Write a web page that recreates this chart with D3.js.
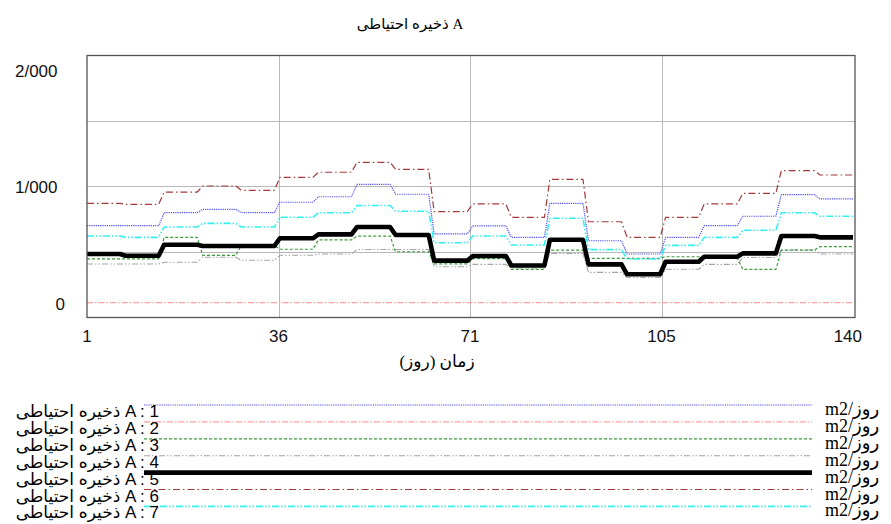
<!DOCTYPE html>
<html>
<head>
<meta charset="utf-8">
<script src="https://cdn.jsdelivr.net/npm/d3@7"></script>
<style>
  body { margin: 0; background: #ffffff; }
  svg { display: block; }
</style>
</head>
<body>
<svg id="chart" width="891" height="524"></svg>
<script>
// ---- data: weekly reserve stock per run (each value holds for 7 days) ----
const runNames = ["1", "2", "3", "4", "5", "6", "7"];
const seriesTitle = "ذخیره احتیاطی A";
const unitLabel = "m2/روز";
const xAxisTitle = "زمان (روز)";
const xTickValues = [1, 35.75, 70.5, 105.25, 140];
const xTickLabels = ["1", "36", "71", "105", "140"];
const yTickValues = [0, 1, 2];
const yTickLabels = ["0", "1/000", "2/000"];

const run1 = [0.697, 0.697, 0.796, 0.822, 0.796, 0.876, 0.918, 1.013, 0.937, 0.634,
              0.695, 0.608, 0.868, 0.582, 0.481, 0.608, 0.697, 0.769, 0.934, 0.901];
const run2 = [0.11, 0.11, 0.11, 0.11, 0.11, 0.11, 0.11, 0.11, 0.11, 0.11,
              0.11, 0.11, 0.11, 0.11, 0.11, 0.11, 0.11, 0.11, 0.11, 0.11];
const run3 = [0.443, 0.443, 0.608, 0.471, 0.547, 0.517, 0.588, 0.618, 0.498, 0.405,
              0.445, 0.364, 0.511, 0.448, 0.448, 0.460, 0.450, 0.364, 0.511, 0.537];
const run4 = [0.405, 0.405, 0.418, 0.456, 0.433, 0.471, 0.481, 0.515, 0.515, 0.384,
              0.402, 0.374, 0.485, 0.341, 0.302, 0.364, 0.402, 0.454, 0.511, 0.481];
const run5 = [0.481, 0.468, 0.552, 0.542, 0.542, 0.601, 0.631, 0.687, 0.626, 0.430,
              0.466, 0.393, 0.590, 0.402, 0.326, 0.422, 0.460, 0.486, 0.618, 0.608];
const run6 = [0.868, 0.860, 0.954, 1.000, 0.967, 1.066, 1.105, 1.181, 1.127, 0.804,
              0.863, 0.761, 1.051, 0.727, 0.608, 0.761, 0.863, 0.944, 1.117, 1.084];
const run7 = [0.618, 0.608, 0.687, 0.715, 0.687, 0.761, 0.796, 0.851, 0.807, 0.567,
              0.618, 0.550, 0.754, 0.514, 0.443, 0.547, 0.608, 0.662, 0.796, 0.769];

const daysPerWeek = 7;

// line styles per run
const styles = [
  { color: "#4d4dff", width: 1.2, dash: "1.2,1" },            // 1 blue dotted
  { color: "#ffa0a0", width: 1.1, dash: "6,2,1.5,2" },        // 2 pink dash-dot
  { color: "#3c9a3c", width: 1.2, dash: "3,2" },              // 3 green dashed
  { color: "#a5a5a5", width: 1.1, dash: "6,2,1.5,2,1.5,2" },  // 4 grey dash-dot-dot
  { color: "#000000", width: 4.6, dash: null },               // 5 black thick
  { color: "#a33a3a", width: 1.2, dash: "7,3,1.5,3" },        // 6 dark red dash-dot
  { color: "#33f0f0", width: 1.6, dash: "7,2,1.5,2,1.5,2" }   // 7 cyan dash-dot-dot
];

const allRuns = [run1, run2, run3, run4, run5, run6, run7];

// expand each weekly value over the days it covers
function toDaily(weekly) {
  const pts = [];
  weekly.forEach((v, w) => {
    for (let d = 1; d <= daysPerWeek; d++) pts.push([w * daysPerWeek + d, v]);
  });
  return pts;
}

const svg = d3.select("#chart");
const plot = { left: 87, right: 855, top: 55.5, bottom: 317.5 };

const x = d3.scaleLinear().domain([1, 140]).range([87, 853]);
const y = d3.scaleLinear().domain([0, 2]).range([317, 55]);

// title
svg.append("text")
  .attr("x", 410).attr("y", 28.5)
  .attr("text-anchor", "middle")
  .style("font-family", "'Liberation Serif', 'DejaVu Sans', serif")
  .style("font-size", "15px")
  .text(seriesTitle);

// gridlines
const grid = svg.append("g").attr("stroke", "#b9b9b9").attr("stroke-width", 1);
[0.5, 1, 1.5].forEach(v => {
  grid.append("line")
    .attr("x1", plot.left).attr("x2", plot.right)
    .attr("y1", Math.round(y(v)) + 0.5).attr("y2", Math.round(y(v)) + 0.5);
});
xTickValues.slice(1, -1).forEach(v => {
  grid.append("line")
    .attr("x1", Math.round(x(v)) + 0.5).attr("x2", Math.round(x(v)) + 0.5)
    .attr("y1", plot.top).attr("y2", plot.bottom);
});

// series
const line = d3.line().x(d => x(d[0])).y(d => y(d[1]));
const drawOrder = [1, 3, 2, 6, 0, 5, 4];
drawOrder.forEach(i => {
  const s = styles[i];
  svg.append("path")
    .datum(toDaily(allRuns[i]))
    .attr("fill", "none")
    .attr("stroke", s.color)
    .attr("stroke-width", s.width)
    .attr("stroke-dasharray", s.dash)
    .attr("stroke-linejoin", "round")
    .attr("d", line);
});

// frame
svg.append("rect")
  .attr("x", plot.left).attr("y", plot.top)
  .attr("width", plot.right - plot.left).attr("height", plot.bottom - plot.top)
  .attr("fill", "none").attr("stroke", "#555555").attr("stroke-width", 1.3);

// y tick labels (top and bottom pulled inside the frame)
const yLab = svg.append("g")
  .style("font-family", "'Liberation Sans', Arial, sans-serif")
  .style("font-size", "17px").attr("fill", "#111");
yTickValues.forEach((v, i) => {
  const shift = i === 0 ? -7 : (i === yTickValues.length - 1 ? 21.5 : 7);
  const xr = i === 0 ? 65 : 57.5;
  yLab.append("text")
    .attr("x", xr).attr("y", y(v) + shift)
    .attr("text-anchor", "end")
    .text(yTickLabels[i]);
});

// x tick labels
const xLab = svg.append("g")
  .style("font-family", "'Liberation Sans', Arial, sans-serif")
  .style("font-size", "17px").attr("fill", "#111");
xTickValues.forEach((v, i) => {
  const last = i === xTickValues.length - 1;
  xLab.append("text")
    .attr("x", last ? x(v) + 9 : x(v))
    .attr("y", 341.5)
    .attr("text-anchor", last ? "end" : "middle")
    .text(xTickLabels[i]);
});

// x axis title, embedded as a right-to-left run
svg.append("text")
  .attr("x", 437).attr("y", 367)
  .attr("text-anchor", "middle")
  .style("font-family", "'Liberation Serif', 'DejaVu Sans', serif")
  .style("font-size", "17px")
  .text("\u202B" + xAxisTitle + "\u202C");

// legend
const legendTop = 405, legendStep = 16.9;
const legend = svg.append("g");
runNames.forEach((r, i) => {
  const ly = legendTop + i * legendStep;
  const s = styles[i];
  legend.append("line")
    .attr("x1", 144).attr("x2", 812)
    .attr("y1", ly).attr("y2", ly)
    .attr("stroke", s.color)
    .attr("stroke-width", s.width)
    .attr("stroke-dasharray", s.dash);
  legend.append("text")
    .attr("x", 159).attr("y", ly + 12)
    .attr("text-anchor", "end")
    .style("font-family", "'Liberation Sans', 'DejaVu Sans', sans-serif")
    .style("font-size", "17px")
    .text(seriesTitle + " : " + r);
  legend.append("text")
    .attr("x", 825).attr("y", ly + 10)
    .style("font-family", "'Liberation Serif', 'DejaVu Sans', serif")
    .style("font-size", "18px")
    .text(unitLabel);
});
</script>
</body>
</html>
